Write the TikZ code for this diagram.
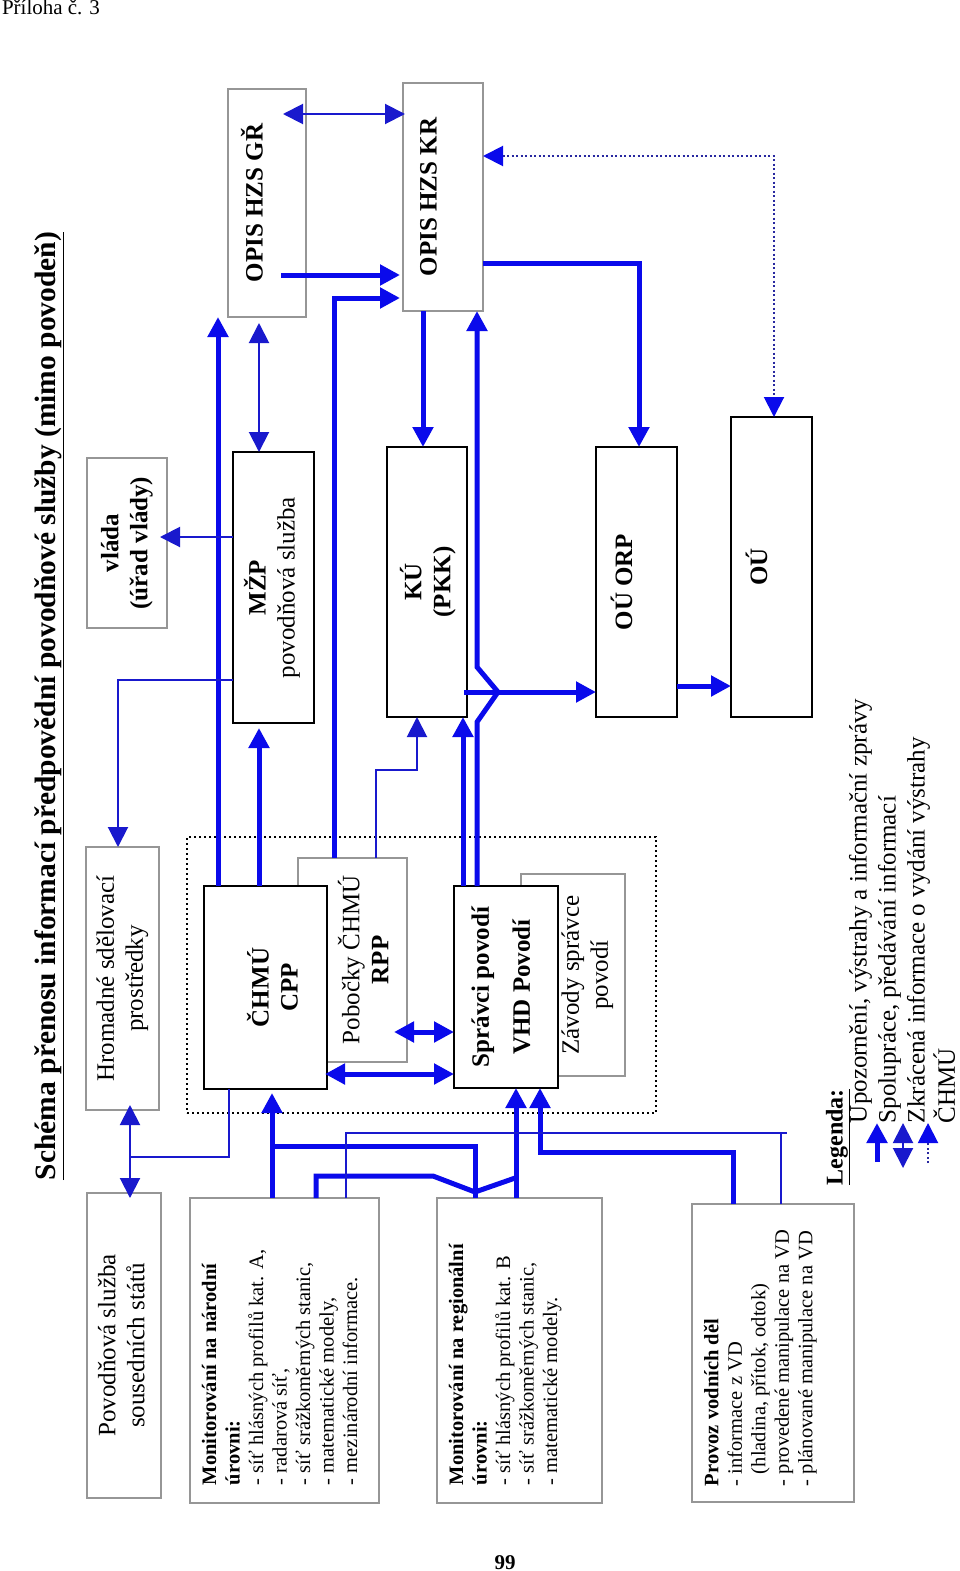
\documentclass[tikz,border=0pt]{standalone}
\usepackage{fontspec}
\setmainfont{Liberation Serif}
\usepackage{graphicx}
\usetikzlibrary{arrows.meta,calc}

\definecolor{mblue}{RGB}{10,10,235}
\definecolor{tblue}{RGB}{25,25,205}
\definecolor{dblue}{RGB}{40,40,160}
\definecolor{bgray}{RGB}{150,150,150}

\newcommand{\rotT}[1]{\rotatebox{90}{#1}}
\newcommand{\fsz}[2]{\fontsize{#1}{#2}\selectfont}
\newcommand{\ctab}[1]{\begin{tabular}{@{}c@{}}#1\end{tabular}}

\begin{document}
\begin{tikzpicture}[x=1pt,y=-1pt,
  >={Triangle[length=20pt,width=20pt]},
  every node/.style={inner sep=0pt, outer sep=0pt},
  gbox/.style={draw=bgray, line width=1.2pt, fill=white},
  bbox/.style={draw=black, line width=2pt, fill=white},
  thk/.style={draw=mblue, line width=5pt},
  thn/.style={draw=tblue, line width=2pt},
  hairl/.style={draw=tblue, line width=1.5pt},
  dotl/.style={draw=dblue, line width=2pt, dash pattern=on 2pt off 2.5pt,
    >={Triangle[length=20pt,width=20pt,color=mblue]}},
  ]
\fill[white] (0,0) rectangle (960,1571);
\useasboundingbox (0,0) rectangle (960,1571);

% header, title, page number
\node[anchor=base west] (priloha) at (2,15) {\fsz{21}{24}Příloha č. 3};
\node (title) at (49,706) {\rotT{\resizebox{948pt}{!}{\fsz{26}{30}\bfseries\underline{Schéma přenosu informací předpovědní povodňové služby (mimo povodeň)}}}};
\node[anchor=base] (page) at (505,1569) {\fsz{21}{24}\bfseries 99};

% dotted group
\node[draw=black, line width=1.5pt, dash pattern=on 2pt off 3pt, minimum width=469pt, minimum height=276pt] (grp) at (421.5,975) {};

% top row boxes
\node[gbox, minimum width=78pt, minimum height=228pt] (gr) at (267,203) {\rotT{\fsz{25}{29}\bfseries OPIS HZS GŘ}\hspace*{30pt}};
\node[gbox, minimum width=80pt, minimum height=228pt] (kr) at (443,197) {\rotT{\fsz{25}{29}\bfseries OPIS HZS KR}\hspace*{29pt}};

% middle row
\node[gbox, minimum width=80pt, minimum height=170pt] (vlada) at (127,543) {\rotT{\fsz{25}{29}\bfseries\ctab{vláda\\(úřad vlády)}}};
\node[bbox, minimum width=81pt, minimum height=271pt] (mzp) at (273.5,587.5) {\rotT{\fsz{25}{29}\ctab{\textbf{MŽP}\\povodňová služba}}};
\node[bbox, minimum width=80pt, minimum height=270pt] (ku) at (427,582) {\hspace*{5pt}\rotT{\fsz{25}{29}\bfseries\ctab{KÚ\\(PKK)}}};
\node[bbox, minimum width=81pt, minimum height=270pt] (ouorp) at (636.5,582) {\rotT{\fsz{25}{29}\bfseries OÚ ORP}\hspace*{30pt}};
\node[bbox, minimum width=81pt, minimum height=300pt] (ou) at (771.5,567) {\rotT{\fsz{25}{29}\bfseries OÚ}\hspace*{30pt}};

% lower middle
\node[gbox, minimum width=73pt, minimum height=263pt] (hrom) at (122.5,978.5) {\rotT{\fsz{25}{29}\ctab{Hromadné sdělovací\\prostředky}}};
\node[gbox, minimum width=109pt, minimum height=204pt] (pob) at (352.5,960) {\hspace*{30pt}\rotT{\fsz{25}{29}\ctab{Pobočky ČHMÚ\\\textbf{RPP}}}};
\node[gbox, minimum width=104pt, minimum height=202pt] (zav) at (573,975) {\hspace*{29pt}\rotT{\fsz{25}{29}\ctab{Závody správce\\povodí}}};
\node[bbox, minimum width=123pt, minimum height=203pt] (chmu) at (265.5,987.5) {\hspace*{22pt}\rotT{\fsz{25}{29}\bfseries\ctab{ČHMÚ\\CPP}}};
\node[bbox, minimum width=104pt, minimum height=202pt] (spr) at (506,987) {\rotT{\fsz{25}{29}\bfseries\ctab{Správci povodí\\[12pt]VHD Povodí}}\hspace*{5pt}};

% bottom row
\node[gbox, minimum width=74pt, minimum height=305pt] (pss) at (124,1345.5) {\rotT{\fsz{25}{29}\ctab{Povodňová služba\\sousedních států}}};
\node[gbox, minimum width=189pt, minimum height=305pt] (nar) at (284.5,1350.5) {\rotT{\parbox[c][165pt][t]{269pt}{\raggedright\fsz{20.5}{23.5}\textbf{Monitorování na národní}\\
\textbf{úrovni:}\\
- síť hlásných profilů kat. A,\\
- radarová síť,\\
- síť srážkoměrných stanic,\\
- matematické modely,\\
- mezinárodní informace.}}};
\node[gbox, minimum width=165pt, minimum height=305pt] (reg) at (519.5,1350.5) {\rotT{\parbox[c][141pt][t]{269pt}{\raggedright\fsz{20.5}{23.5}\textbf{Monitorování na regionální}\\
\textbf{úrovni:}\\
- síť hlásných profilů kat. B\\
- síť srážkoměrných stanic,\\
- matematické modely.}}};
\node[gbox, minimum width=162pt, minimum height=298pt] (prov) at (773,1353) {\rotT{\parbox[c][138pt][t]{266pt}{\raggedright\fsz{20.5}{23.5}\textbf{Provoz vodních děl}\\
- informace z VD\\
\hspace*{12pt}(hladina, přítok, odtok)\\
- provedené manipulace na VD\\
- plánované manipulace na VD}}};

% legend
\node (legtitle) at (838,1137) {\rotT{\fsz{24}{28}\bfseries\underline{Legenda:}}};
\node[anchor=south] (legtext) at (905,1123) {\rotT{\fsz{25}{29}\begin{tabular}{@{}l@{}}Upozornění, výstrahy a informační zprávy\\Spolupráce, předávání informací\\Zkrácená informace o vydání výstrahy\\ČHMÚ\end{tabular}}};
\coordinate (lg1a) at (877,1162); \coordinate (lg1b) at (877,1123);
\coordinate (lg2a) at (903,1168); \coordinate (lg2b) at (903,1123);
\coordinate (lg3a) at (928,1163); \coordinate (lg3b) at (928,1123);
\draw[thk, ->] (lg1a) -- (lg1b);
\draw[thn, <->] (lg2a) -- (lg2b);
\draw[dotl, ->] (lg3a) -- (lg3b);

% connectors
\draw[thk, ->] (218,0 |- chmu.north) -- (218,0 |- gr.south);
\draw[thk, ->] (259,0 |- chmu.north) -- ($(259,0 |- mzp.south)+(0,5)$);
\draw[thn, <->] ($(259,0 |- gr.south)+(0,6)$) -- (259,0 |- mzp.north);
\draw[thk, ->] (334,0 |- pob.north) -- (334,298) -- ($(kr.west |- 0,298)+(-3,0)$);
\draw[thn, ->] (376,0 |- pob.north) -- (376,770) -- (417,770) -- (417,0 |- ku.south);
\draw[thk, ->] (463,0 |- spr.north) -- (463,0 |- ku.south);
\draw[thk, ->] (477,0 |- spr.north) -- (477,722) -- (498,692) -- (477,667) -- (477,0 |- kr.south);
\draw[thk, ->] ($(ku.east |- 0,692)+(-3,0)$) -- (ouorp.west |- 0,692);
\draw[thk, ->] (423,0 |- kr.south) -- (423,0 |- ku.north);
\draw[thk, ->] (kr.east |- 0,263) -- (639,263) -- (639,0 |- ouorp.north);
\draw[thk, ->] (ouorp.east |- 0,686) -- (ou.west |- 0,686);
\draw[dotl, <->] (kr.east |- 0,156) -- (774,156) -- (774,0 |- ou.north);
\coordinate (grkr) at (283,114);
\draw[thn, <->] (grkr) -- ($(kr.west |- grkr)+(2,0)$);
\coordinate (grkrb) at (281,275);
\draw[thk, ->] (grkrb) -- ($(kr.west |- grkrb)+(-3,0)$);
\draw[thn, ->] (mzp.west |- 0,537) -- ($(vlada.east |- 0,537)+(-7,0)$);
\draw[thn, ->] (mzp.west |- 0,680) -- (118,680) -- (118,0 |- hrom.north);
\draw[thn, <->] ($(130,0 |- hrom.south)+(0,-5)$) -- ($(130,0 |- pss.north)+(0,5)$);
\draw[thn] (229,0 |- chmu.south) -- (229,1157) -- (130,1157);
\coordinate (pobspr) at (394,1032);
\draw[thk, <->] (pobspr) -- (spr.west |- pobspr);
\draw[thk, <->] ($(chmu.east |- 0,1074)+(-2,0)$) -- (spr.west |- 0,1074);
\draw[thk, ->] (272,0 |- nar.north) -- ($(272,0 |- chmu.south)+(0,4)$);
\draw[thk] (475,0 |- reg.north) -- (475,1146) -- (272,1146);
\draw[thk] (316,0 |- nar.north) -- (316,1176) -- (433,1176) -- (475,1192) -- (518,1177);
\draw[thk, ->] (516,0 |- reg.north) -- (516,0 |- spr.south);
\draw[thk, ->] (733,0 |- prov.north) -- (733,1152) -- (540,1152) -- (540,0 |- spr.south);
\draw[hairl] (346,0 |- nar.north) -- (346,1133) -- (787,1133);
\draw[hairl] (781,1133) -- (781,0 |- prov.north);
\end{tikzpicture}
\end{document}
